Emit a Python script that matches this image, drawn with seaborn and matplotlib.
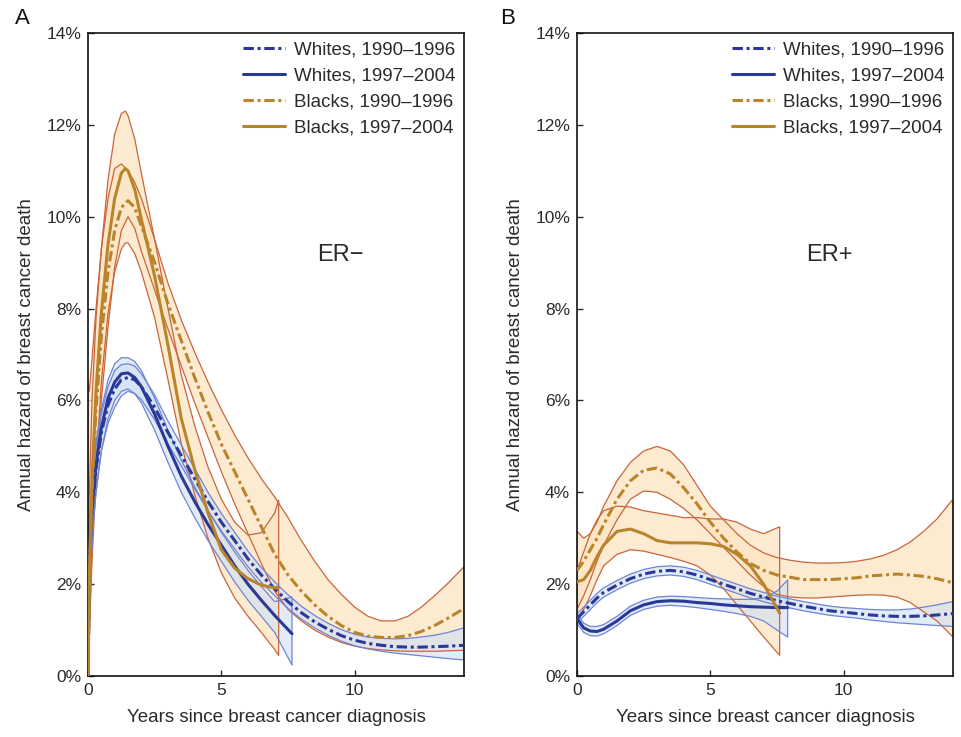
import numpy as np
import pandas as pd
import matplotlib
matplotlib.use("Agg")
import matplotlib.pyplot as plt
from matplotlib.ticker import FuncFormatter
import seaborn as sns

# ---------------- data (annual hazard, %) ----------------
LABELS = ["Whites, 1990\u20131996", "Whites, 1997\u20132004",
          "Blacks, 1990\u20131996", "Blacks, 1997\u20132004"]
PANEL_TEXT = ["ER\u2212", "ER+"]
PANEL_LETTERS = ["A", "B"]
XTICKS = [0, 5, 10]
YTICKS = [0, 2, 4, 6, 8, 10, 12, 14]

# Panel A (ER-)
A_x_long = [0, 0.05, 0.15, 0.3, 0.5, 0.75, 1.0, 1.25, 1.5, 1.75, 2.0, 2.5, 3.0, 3.5, 4.0,
            4.5, 5.0, 5.5, 6.0, 6.5, 7.0, 7.5, 8.0, 8.5, 9.0, 9.5, 10.0, 10.5, 11.0, 11.5,
            12.0, 12.5, 13.0, 13.5, 14.1]
A_w90_mid = [0, 2.3, 3.6, 4.5, 5.3, 5.9, 6.25, 6.45, 6.5, 6.45, 6.3, 5.85, 5.3, 4.8, 4.3,
             3.8, 3.35, 2.95, 2.55, 2.2, 1.9, 1.62, 1.38, 1.18, 1.02, 0.88, 0.78, 0.71, 0.67,
             0.64, 0.63, 0.63, 0.64, 0.65, 0.67]
A_w90_hi = [3.0, 3.3, 4.2, 5.0, 5.7, 6.3, 6.65, 6.78, 6.8, 6.75, 6.58, 6.12, 5.55, 5.03, 4.52,
            4.0, 3.54, 3.13, 2.72, 2.36, 2.05, 1.77, 1.52, 1.32, 1.15, 1.01, 0.91, 0.85, 0.82,
            0.81, 0.82, 0.85, 0.89, 0.95, 1.05]
A_w90_lo = [0, 1.3, 3.0, 4.0, 4.9, 5.5, 5.85, 6.1, 6.2, 6.15, 6.02, 5.58, 5.05, 4.57, 4.08,
            3.6, 3.16, 2.77, 2.38, 2.04, 1.75, 1.47, 1.24, 1.05, 0.89, 0.76, 0.66, 0.59, 0.54,
            0.5, 0.47, 0.44, 0.41, 0.38, 0.35]
A_b90_mid = [0, 2.0, 4.0, 5.8, 7.4, 8.8, 9.7, 10.2, 10.35, 10.2, 9.8, 9.0, 8.1, 7.3, 6.5,
             5.75, 5.05, 4.45, 3.85, 3.25, 2.65, 2.2, 1.85, 1.55, 1.3, 1.1, 0.95, 0.87, 0.84,
             0.84, 0.88, 0.97, 1.1, 1.26, 1.47]
A_b90_hi = [6.4, 6.2, 6.9, 8.0, 9.3, 10.4, 11.05, 11.15, 11.0, 10.75, 10.4, 9.5, 8.55, 7.75,
            7.05, 6.4, 5.8, 5.25, 4.75, 4.3, 3.9, 3.45, 2.95, 2.5, 2.1, 1.78, 1.5, 1.3, 1.2,
            1.2, 1.3, 1.5, 1.75, 2.02, 2.38]
A_b90_lo = [0, 1.0, 2.5, 4.3, 6.0, 7.6, 8.9, 9.7, 10.0, 9.75, 9.25, 8.4, 7.55, 6.75, 5.95,
            5.2, 4.45, 3.75, 3.1, 2.45, 1.85, 1.45, 1.2, 1.0, 0.85, 0.73, 0.65, 0.6, 0.57,
            0.55, 0.54, 0.54, 0.54, 0.55, 0.56]

A_x_b97 = [0, 0.05, 0.15, 0.3, 0.5, 0.75, 1.0, 1.25, 1.4, 1.5, 1.75, 2.0, 2.5, 3.0, 3.5,
           4.0, 4.5, 5.0, 5.5, 6.0, 6.5, 7.0, 7.15]
A_b97_mid = [0, 2.2, 4.3, 6.2, 7.9, 9.4, 10.4, 10.95, 11.05, 11.0, 10.6, 9.95, 8.7, 7.2, 5.6,
             4.5, 3.55, 2.75, 2.35, 2.12, 1.98, 1.92, 1.93]
A_b97_hi = [3.0, 4.0, 6.0, 7.8, 9.3, 10.8, 11.8, 12.25, 12.3, 12.2, 11.7, 10.95, 9.5, 8.0,
            6.55, 5.45, 4.55, 3.85, 3.35, 3.07, 3.12, 3.55, 3.83]
A_b97_lo = [0, 1.0, 2.8, 4.6, 6.4, 7.9, 8.8, 9.3, 9.43, 9.43, 9.2, 8.8, 7.8, 6.45, 5.05,
            3.95, 3.0, 2.25, 1.7, 1.3, 0.95, 0.58, 0.45]

A_x_w97 = [0, 0.05, 0.15, 0.3, 0.5, 0.75, 1.0, 1.25, 1.5, 1.75, 2.0, 2.5, 3.0, 3.5, 4.0,
           4.5, 5.0, 5.5, 6.0, 6.5, 7.0, 7.65]
A_w97_mid = [0, 2.5, 3.7, 4.6, 5.4, 6.05, 6.4, 6.58, 6.6, 6.5, 6.3, 5.7, 5.0, 4.35, 3.8,
             3.3, 2.85, 2.4, 2.0, 1.65, 1.32, 0.92]
A_w97_hi = [3.0, 3.4, 4.3, 5.1, 5.8, 6.45, 6.8, 6.93, 6.93, 6.85, 6.65, 6.05, 5.35, 4.7,
            4.12, 3.6, 3.13, 2.7, 2.3, 1.95, 1.62, 1.72]
A_w97_lo = [0, 1.5, 3.0, 4.0, 4.9, 5.6, 6.0, 6.2, 6.25, 6.15, 5.95, 5.35, 4.65, 4.0, 3.45,
            2.95, 2.5, 2.05, 1.65, 1.3, 0.95, 0.24]

# Panel B (ER+)
B_x_long = [0, 0.25, 0.5, 0.75, 1.0, 1.5, 2.0, 2.5, 3.0, 3.5, 4.0, 4.5, 5.0, 5.5, 6.0, 6.5,
            7.0, 7.5, 8.0, 8.5, 9.0, 9.5, 10.0, 10.5, 11.0, 11.5, 12.0, 12.5, 13.0, 13.5, 14.1]
B_w90_mid = [1.25, 1.4, 1.55, 1.7, 1.82, 1.98, 2.12, 2.22, 2.28, 2.3, 2.27, 2.2, 2.1, 2.0,
             1.9, 1.8, 1.72, 1.64, 1.58, 1.52, 1.47, 1.42, 1.39, 1.36, 1.33, 1.31, 1.3, 1.3,
             1.31, 1.33, 1.36]
B_w90_hi = [1.35, 1.5, 1.65, 1.8, 1.92, 2.08, 2.22, 2.32, 2.38, 2.4, 2.37, 2.3, 2.2, 2.1, 2.0,
            1.9, 1.82, 1.74, 1.68, 1.62, 1.57, 1.52, 1.49, 1.47, 1.45, 1.44, 1.44, 1.46, 1.5,
            1.55, 1.62]
B_w90_lo = [1.15, 1.3, 1.45, 1.6, 1.72, 1.88, 2.02, 2.12, 2.18, 2.2, 2.17, 2.1, 2.0, 1.9, 1.8,
            1.7, 1.62, 1.54, 1.48, 1.42, 1.37, 1.32, 1.29, 1.26, 1.22, 1.19, 1.16, 1.14, 1.12,
            1.1, 1.08]
B_b90_mid = [2.3, 2.5, 2.75, 3.0, 3.3, 3.85, 4.25, 4.48, 4.53, 4.4, 4.1, 3.75, 3.35, 3.0, 2.7,
             2.45, 2.3, 2.2, 2.15, 2.1, 2.1, 2.1, 2.12, 2.14, 2.18, 2.2, 2.22, 2.2, 2.17, 2.12,
             2.03]
B_b90_hi = [3.15, 3.0, 3.1, 3.35, 3.7, 4.25, 4.65, 4.9, 5.0, 4.9, 4.6, 4.15, 3.7, 3.4, 3.1,
            2.85, 2.68, 2.58, 2.52, 2.48, 2.46, 2.46, 2.47, 2.5, 2.55, 2.63, 2.75, 2.92, 3.15,
            3.42, 3.85]
B_b90_lo = [1.45, 1.75, 2.1, 2.5, 2.85, 3.4, 3.85, 4.03, 4.0, 3.85, 3.65, 3.4, 3.1, 2.8, 2.5,
            2.2, 1.95, 1.78, 1.72, 1.7, 1.7, 1.72, 1.74, 1.76, 1.77, 1.76, 1.72, 1.6, 1.4, 1.2,
            0.85]

B_x_b97 = [0, 0.25, 0.5, 0.75, 1.0, 1.5, 2.0, 2.5, 3.0, 3.5, 4.0, 4.5, 5.0, 5.5, 6.0, 6.5,
           7.0, 7.6]
B_b97_mid = [2.05, 2.1, 2.3, 2.6, 2.85, 3.15, 3.2, 3.1, 2.95, 2.9, 2.9, 2.9, 2.88, 2.82, 2.65,
             2.4, 2.0, 1.37]
B_b97_hi = [2.3, 2.7, 3.1, 3.4, 3.6, 3.7, 3.68, 3.6, 3.55, 3.5, 3.45, 3.45, 3.42, 3.42, 3.35,
            3.2, 3.1, 3.25]
B_b97_lo = [1.2, 1.45, 1.75, 2.1, 2.4, 2.65, 2.75, 2.72, 2.65, 2.58, 2.5, 2.4, 2.2, 1.9, 1.55,
            1.2, 0.85, 0.45]

B_x_w97 = [0, 0.25, 0.5, 0.75, 1.0, 1.5, 2.0, 2.5, 3.0, 3.5, 4.0, 4.5, 5.0, 5.5, 6.0, 6.5,
           7.0, 7.5, 7.9]
B_w97_mid = [1.25, 1.05, 0.98, 0.97, 1.02, 1.2, 1.42, 1.55, 1.62, 1.64, 1.63, 1.6, 1.58, 1.55,
             1.53, 1.51, 1.5, 1.49, 1.49]
B_w97_hi = [1.35, 1.15, 1.08, 1.08, 1.12, 1.3, 1.52, 1.65, 1.72, 1.74, 1.73, 1.71, 1.69, 1.68,
            1.67, 1.67, 1.7, 1.85, 2.09]
B_w97_lo = [1.15, 0.95, 0.88, 0.87, 0.92, 1.1, 1.32, 1.45, 1.52, 1.54, 1.52, 1.49, 1.45, 1.41,
            1.36, 1.3, 1.2, 1.0, 0.85]

# ---------------- style ----------------
sns.set_theme(style="ticks")
plt.rcParams['font.family'] = ['Liberation Sans', 'DejaVu Sans']

NAVY = "#2a3898"
BLUE_CI = "#6f84d4"
BLUE_FILL = "#cfe0f5"
GOLD = "#b8842c"
ORANGE_CI = "#c9653c"
ORANGE_FILL = "#fde5c2"
TXT = "#2b2b2b"
DASHDOT = (0, (3.4, 1.2, 1.0, 1.2))

fig = plt.figure(figsize=(9.62, 7.37), dpi=100)
axA = fig.add_axes([0.0915, 0.0827, 0.3908, 0.8725])
axB = fig.add_axes([0.5998, 0.0827, 0.3908, 0.8725])

panels = [
    (axA, [
        (A_x_long, A_w90_mid, A_w90_lo, A_w90_hi, "w", DASHDOT, LABELS[0]),
        (A_x_w97, A_w97_mid, A_w97_lo, A_w97_hi, "w", "-", LABELS[1]),
        (A_x_long, A_b90_mid, A_b90_lo, A_b90_hi, "b", DASHDOT, LABELS[2]),
        (A_x_b97, A_b97_mid, A_b97_lo, A_b97_hi, "b", "-", LABELS[3]),
    ]),
    (axB, [
        (B_x_long, B_w90_mid, B_w90_lo, B_w90_hi, "w", DASHDOT, LABELS[0]),
        (B_x_w97, B_w97_mid, B_w97_lo, B_w97_hi, "w", "-", LABELS[1]),
        (B_x_long, B_b90_mid, B_b90_lo, B_b90_hi, "b", DASHDOT, LABELS[2]),
        (B_x_b97, B_b97_mid, B_b97_lo, B_b97_hi, "b", "-", LABELS[3]),
    ]),
]

for i, (ax, series) in enumerate(panels):
    # bands: blacks first, then whites
    for (x, mid, lo, hi, grp, ls, lab) in sorted(series, key=lambda s: s[4] == "w"):
        if grp == "b":
            ax.fill_between(x, lo, hi, facecolor=ORANGE_FILL, edgecolor="none", alpha=0.75, zorder=1)
            ax.fill_between(x, lo, hi, facecolor="none", edgecolor=ORANGE_CI, lw=0.9, zorder=2)
        else:
            ax.fill_between(x, lo, hi, facecolor=BLUE_FILL, edgecolor="none", alpha=0.6, zorder=1.5)
            ax.fill_between(x, lo, hi, facecolor="none", edgecolor=BLUE_CI, lw=0.9, zorder=2.5)
    for (x, mid, lo, hi, grp, ls, lab) in series:
        df = pd.DataFrame({"x": x, "y": mid})
        sns.lineplot(data=df, x="x", y="y", ax=ax, sort=False, estimator=None,
                     color=NAVY if grp == "w" else GOLD, lw=2.2, linestyle=ls,
                     label=lab, zorder=4)

    ax.set_xlim(0, 14.1)
    ax.set_ylim(0, 14)
    ax.set_xticks(XTICKS)
    ax.set_yticks(YTICKS)
    ax.yaxis.set_major_formatter(FuncFormatter(lambda v, p: f"{v:.0f}%"))
    ax.tick_params(direction="in", length=4, width=1.0, labelsize=12.5,
                   colors=TXT, pad=5, top=False, right=False)
    for sp in ax.spines.values():
        sp.set_visible(True)
        sp.set_linewidth(1.2)
        sp.set_color("#111111")
    ax.set_xlabel("Years since breast cancer diagnosis", fontsize=13.5, color=TXT, labelpad=8)
    ax.set_ylabel("Annual hazard of breast cancer death", fontsize=13.5, color=TXT, labelpad=8)
    ax.text(0.67, 0.655, PANEL_TEXT[i], transform=ax.transAxes, fontsize=17,
            color=TXT, ha="center", va="center")
    h, l = ax.get_legend_handles_labels()
    ax.legend(h, l, loc="upper right", bbox_to_anchor=(1.0, 1.0), frameon=False,
              fontsize=13.5, handlelength=2.2, handletextpad=0.5, labelspacing=0.47,
              borderaxespad=0.15, borderpad=0.3, labelcolor=TXT)

fig.text(0.023, 0.975, PANEL_LETTERS[0], fontsize=16, color="#111111", ha="center", va="center")
fig.text(0.528, 0.975, PANEL_LETTERS[1], fontsize=16, color="#111111", ha="center", va="center")

fig.savefig("out.png", dpi=100)
